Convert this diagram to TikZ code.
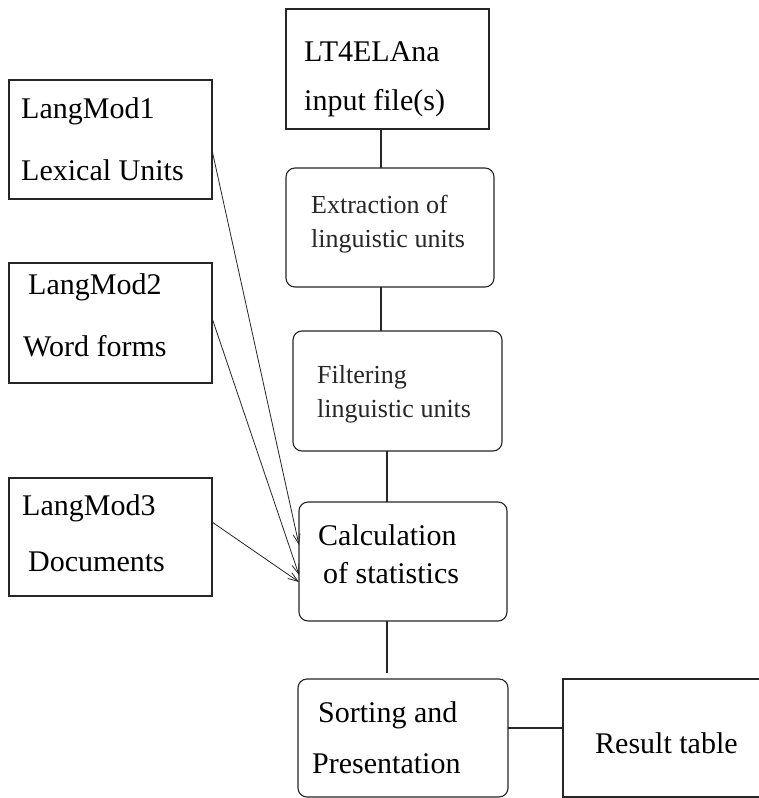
\documentclass[tikz,border=0pt]{standalone}
\usepackage{fontspec}
\setmainfont{Liberation Serif}
\usetikzlibrary{arrows.meta}
\newcommand\bigf{\fontsize{30}{36}\selectfont}
\newcommand\smallf{\fontsize{26}{30}\selectfont}
\tikzset{
  box/.style={draw=black!85, line width=1.1pt, inner sep=0pt, outer sep=0pt},
  rbox/.style={box, rounded corners=9pt},
  lbl/.style={anchor=base west, inner sep=0pt, font=\bigf},
  slbl/.style={anchor=base west, inner sep=0pt, font=\smallf, text=black!85},
  conn/.style={draw=black!85, line width=1.1pt},
  feed/.style={draw=black!85, line width=0.8pt, -{Straight Barb[length=10pt,width=7pt]}}
}
\begin{document}
\begin{tikzpicture}[x=1pt,y=-1pt]
\clip (0,0) rectangle (759,798);
\fill[white] (0,0) rectangle (759,798);
% boxes
\node[box, minimum width=203pt, minimum height=120pt] (lt) at (387.5,69) {};
\node[box, minimum width=203pt, minimum height=119pt] (lm1) at (110.5,139.5) {};
\node[rbox, minimum width=208pt, minimum height=119pt] (ext) at (390,227.5) {};
\node[box, minimum width=203pt, minimum height=120pt] (lm2) at (110.5,323) {};
\node[rbox, minimum width=209pt, minimum height=120pt] (fil) at (397.5,391) {};
\node[box, minimum width=203pt, minimum height=118pt] (lm3) at (110.5,537) {};
\node[rbox, minimum width=208pt, minimum height=119pt] (calc) at (403,561.5) {};
\node[rbox, minimum width=210pt, minimum height=118pt] (sort) at (403,738) {};
\node[box, minimum width=217pt, minimum height=118pt] (res) at (671.5,738) {};
% texts
\node[lbl] (t1a) at (304,61) {LT4ELAna};
\node[lbl] (t1b) at (304,110) {input file(s)};
\node[lbl] (t2a) at (21,118) {LangMod1};
\node[lbl] (t2b) at (21,180) {Lexical Units};
\node[slbl] (t3a) at (311,213) {Extraction of};
\node[slbl] (t3b) at (311,247) {linguistic units};
\node[lbl] (t4a) at (28,294) {LangMod2};
\node[lbl] (t4b) at (23,356) {Word forms};
\node[slbl] (t5a) at (317,383) {Filtering};
\node[slbl] (t5b) at (317,417) {linguistic units};
\node[lbl] (t6a) at (22,515) {LangMod3};
\node[lbl] (t6b) at (28,571) {Documents};
\node[lbl] (t7a) at (318,545) {Calculation};
\node[lbl] (t7b) at (323,583) {of statistics};
\node[lbl] (t8a) at (318,722) {Sorting and};
\node[lbl] (t8b) at (312,773) {Presentation};
\node[lbl] (t9) at (595,753) {Result table};
% connectors
\draw[conn] (lt.south -| 381,0) -- (ext.north -| 381,0);
\draw[conn] (ext.south -| 381,0) -- (fil.north -| 381,0);
\draw[conn] (fil.south -| 387,0) -- (calc.north -| 387,0);
\draw[conn, shorten >=6pt] (calc.south -| 387,0) -- (sort.north -| 387,0);
\draw[conn] (sort.east |- 0,728) -- (res.west |- 0,728);
% feeds
\draw[feed] (lm1.east |- 0,150) -- (calc.west |- 0,545);
\draw[feed] (lm2.east |- 0,318) -- (calc.west |- 0,575);
\draw[feed] (lm3.east |- 0,522) -- (calc.west |- 0,582);
\end{tikzpicture}
\end{document}
